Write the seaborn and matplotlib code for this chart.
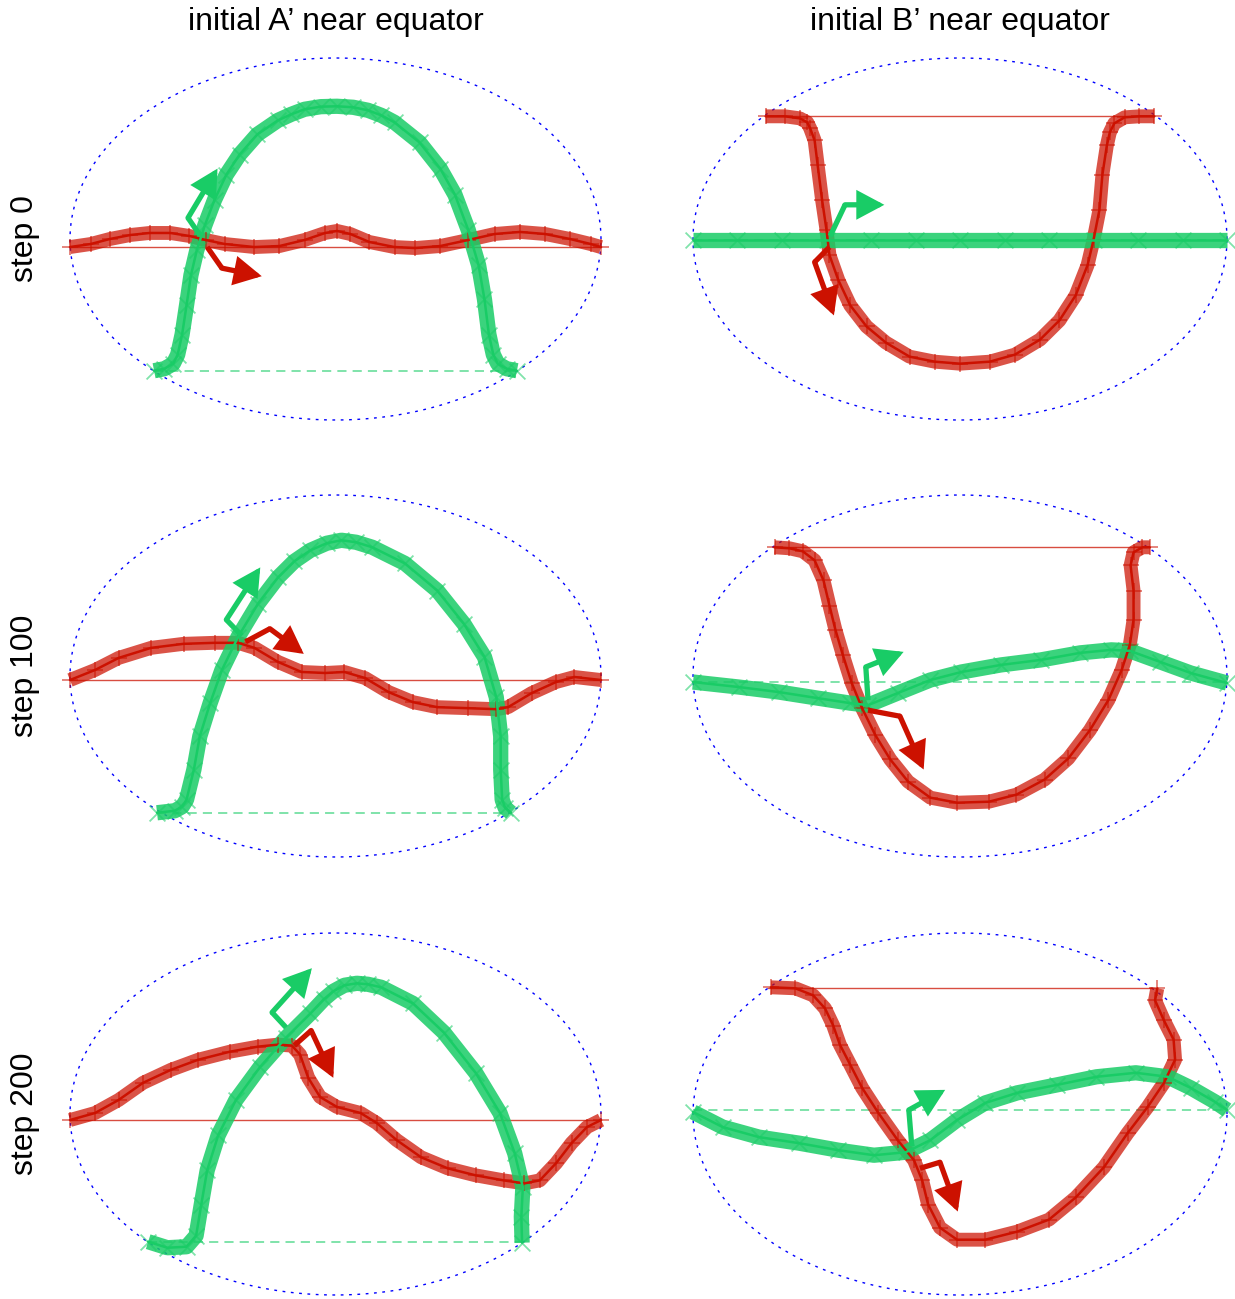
import numpy as np
import matplotlib
matplotlib.use("Agg")
import matplotlib.pyplot as plt
import seaborn as sns

RED = "#cc1100"
GREEN = "#19cc66"

col_titles = ["initial A\u2019 near equator", "initial B\u2019 near equator"]
row_labels = ["step 0", "step 100", "step 200"]

# ---- step 0, A' ----
a0_red_lon = [-180, -166, -153, -139, -126, -112, -99, -88, -75, -55, -38, -21, -7, 1, 10, 23, 40, 54, 71, 90, 108, 125, 142, 159, 173, 180]
a0_red_lat = [-4, -2.5, 0, 2, 3, 3, 1.5, -0.5, -2.5, -4, -3.5, -0.5, 3, 4, 2.5, -1.5, -4, -4.5, -3.5, -0.5, 2.5, 3.5, 2.5, 0, -2.5, -4]
a0_green_lon = [-123, -116, -110, -107, -104, -101, -98, -94, -88.5, -82, -74, -65, -53, -39, -30, -21, -10, 1, 12, 22, 31, 40, 57, 71, 81, 90, 97, 101, 104, 107, 110, 116, 123]
a0_green_lat = [-65.5, -64.5, -62, -57.5, -47.5, -33, -18, -5.5, 7, 19.5, 32, 42, 52, 59, 62, 64.5, 65.8, 66, 65.5, 64, 61.5, 58, 48, 35, 22, 4.5, -13, -30, -47.5, -57.5, -62, -64.5, -65.5]
a0_red_ref = (-180, 180, -4)
a0_green_ref = (-123, 123, -65.5)
a0_green_arrow_lon = [-92, -100, -80]
a0_green_arrow_lat = [2, 10.5, 35]
a0_red_arrow_lon = [-87, -77, -50]
a0_red_arrow_lat = [-4, -14.5, -18.5]

# ---- step 0, B' ----
b0_red_lon = [-131, -118, -108, -103, -101, -98, -96, -93, -90, -88, -82, -74, -63, -50, -34, -17, 0, 20, 37, 54, 67, 78, 86, 90, 94, 96, 99, 101, 104, 111, 121, 131]
b0_red_lat = [61, 61, 60, 58, 55, 49, 37, 19.5, 4.5, -8, -20.5, -33, -43.5, -51.5, -58.5, -61, -62, -61, -57.5, -50, -40.5, -28, -13, -0.5, 14.5, 32, 46.5, 53, 57.5, 60.5, 61, 61]
b0_green_lon = [-180, -150, -120, -90, -60, -30, 0, 30, 60, 90, 120, 150, 180]
b0_green_lat = [-0.5, -0.5, -0.5, -0.5, -0.5, -0.5, -0.5, -0.5, -0.5, -0.5, -0.5, -0.5, -0.5]
b0_red_ref = (-131, 131, 61)
b0_green_ref = (-180, 180, -0.5)
b0_green_arrow_lon = [-87.5, -77.5, -51]
b0_green_arrow_lat = [1.5, 17, 17]
b0_red_arrow_lon = [-88, -98, -85]
b0_red_arrow_lat = [-4, -11.5, -38]

# ---- step 100, A' ----
a1_red_lon = [-180, -163, -147, -125, -103, -82, -66, -55, -39, -23, -7, 6, 20, 36, 52.5, 69, 90, 109, 117, 133, 149.5, 162, 180]
a1_red_lat = [-2, 3, 9, 14, 16, 16.5, 16.5, 14, 7, 2, 1.5, 2, -1, -8, -13, -15.5, -16, -16.5, -15.5, -8.5, -3, -0.5, -2]
a1_green_lon = [-121, -109, -104, -101, -96, -92, -85, -77, -66, -52.5, -39, -28, -17, -6, 4, 14, 25, 47, 69, 87, 101, 109, 112, 112, 113, 115, 119]
a1_green_lat = [-68, -67, -65, -61.5, -46.5, -30, -13.5, 3, 19.5, 36, 49, 57, 62.5, 66, 67.5, 66.5, 64, 56, 42.5, 26, 9.5, -10.5, -30, -46.5, -61.5, -65.5, -68]
a1_red_ref = (-180, 180, -2)
a1_green_ref = (-121, 119, -68)
a1_green_arrow_lon = [-63.5, -74, -51]
a1_green_arrow_lat = [20, 28, 54]
a1_red_arrow_lon = [-61, -44.5, -21.5]
a1_red_arrow_lat = [17, 23.5, 11]

# ---- step 100, B' ----
b1_red_lon = [-125, -115, -106, -98, -92, -88, -84, -79, -73, -66, -57, -47, -35, -20, -2, 19.5, 38, 57, 73, 87.5, 100, 109, 114.5, 117, 117, 115, 117, 123, 128]
b1_red_lat = [64, 63.5, 62, 57.5, 47.5, 35, 23, 10.5, -3.5, -16, -29.5, -41.5, -52.5, -60.5, -63, -62.5, -59, -51.5, -41, -27, -12, 3, 15.5, 28, 42.5, 55, 61.5, 64, 64]
b1_green_lon = [-180, -149, -122, -96, -74, -62, -42, -20, 1, 27.5, 54.5, 81, 102, 114.5, 135, 155.5, 180]
b1_green_lat = [-3, -5.5, -8, -11, -13.5, -14.5, -8.5, -2, 2, 5.5, 8, 11.5, 13, 12.5, 7, 1.5, -3.5]
b1_red_ref = (-126, 126, 64)
b1_green_ref = (-180, 180, -3)
b1_green_arrow_lon = [-62, -63.5, -38]
b1_green_arrow_lat = [-12, 4.5, 12]
b1_red_arrow_lon = [-62, -40.5, -24.5]
b1_red_arrow_lat = [-17, -20, -46.5]

# ---- step 200, A' ----
a2_red_lon = [-180, -163, -147, -130.5, -111.5, -93, -71.5, -52.5, -39, -29.5, -24, -18.5, -10.5, 1, 17, 28, 41.5, 58, 76, 95, 114, 128, 138.5, 149.5, 160, 170.5, 180]
a2_red_lat = [-3, 0.5, 7, 15.5, 22, 27, 31, 33.5, 34.5, 34, 29.5, 18, 8.5, 3.5, 0.5, -4.5, -13, -21.5, -27, -30.5, -33, -34.5, -33, -24.5, -14.5, -6.5, -3]
a2_green_lon = [-127, -114, -101, -94.5, -91, -87, -79.5, -67.5, -51, -33.5, -17, -8, -1.5, 6, 14.5, 22, 31, 52.5, 73.5, 95, 111.5, 121.5, 127, 126, 126.5]
a2_green_lat = [-63.5, -66.5, -66, -60.5, -45, -28, -10.5, 7, 23.5, 38, 50, 57, 61, 64, 65, 64.5, 63, 55, 40.5, 20.5, 0.5, -19.5, -36.5, -51, -64]
a2_red_ref = (-180, 180, -3)
a2_green_ref = (-127, 126.5, -63.5)
a2_green_arrow_lon = [-33.5, -43, -16]
a2_green_arrow_lat = [43, 50.5, 72.5]
a2_red_arrow_lon = [-28, -16.5, -1.5]
a2_red_arrow_lat = [34, 41.5, 18]

# ---- step 200, B' ----
b2_red_lon = [-127.5, -111, -99, -91, -85.5, -81, -74, -66, -55, -42, -31, -25.5, -21.5, -13.5, -2, 17, 38.5, 60, 78, 97, 113, 126.5, 137.5, 145, 144, 137.5, 131.5, 133]
b2_red_lat = [63, 62.5, 59, 52.5, 44, 34.5, 24.5, 13, 0.5, -13, -23, -33, -45, -56.5, -62.5, -62.5, -58.5, -52.5, -41.5, -26.5, -9.5, 3.5, 15.5, 27, 37, 46.5, 56.5, 62.5]
b2_green_lon = [-180, -160, -135.5, -108.5, -82, -58, -36.5, -20, -2, 17, 38.5, 65.5, 92, 118.5, 140, 155.5, 172, 180]
b2_green_lat = [1, -6.5, -11.5, -14.5, -18, -20.5, -19, -13, -3, 5.5, 10.5, 14.5, 18.5, 20.5, 18.5, 13, 6, 2]
b2_red_ref = (-129.5, 129.5, 62.5)
b2_green_ref = (-180, 180, 2)
b2_green_arrow_lon = [-32.5, -34.5, -10]
b2_green_arrow_lat = [-16, 2, 12]
b2_red_arrow_lon = [-27, -13.5, -1.5]
b2_red_arrow_lat = [-27, -24, -48.5]

panels = [
    [(a0_red_lon, a0_red_lat, a0_green_lon, a0_green_lat, a0_red_ref, a0_green_ref,
      (a0_red_arrow_lon, a0_red_arrow_lat), (a0_green_arrow_lon, a0_green_arrow_lat)),
     (b0_red_lon, b0_red_lat, b0_green_lon, b0_green_lat, b0_red_ref, b0_green_ref,
      (b0_red_arrow_lon, b0_red_arrow_lat), (b0_green_arrow_lon, b0_green_arrow_lat))],
    [(a1_red_lon, a1_red_lat, a1_green_lon, a1_green_lat, a1_red_ref, a1_green_ref,
      (a1_red_arrow_lon, a1_red_arrow_lat), (a1_green_arrow_lon, a1_green_arrow_lat)),
     (b1_red_lon, b1_red_lat, b1_green_lon, b1_green_lat, b1_red_ref, b1_green_ref,
      (b1_red_arrow_lon, b1_red_arrow_lat), (b1_green_arrow_lon, b1_green_arrow_lat))],
    [(a2_red_lon, a2_red_lat, a2_green_lon, a2_green_lat, a2_red_ref, a2_green_ref,
      (a2_red_arrow_lon, a2_red_arrow_lat), (a2_green_arrow_lon, a2_green_arrow_lat)),
     (b2_red_lon, b2_red_lat, b2_green_lon, b2_green_lat, b2_red_ref, b2_green_ref,
      (b2_red_arrow_lon, b2_red_arrow_lat), (b2_green_arrow_lon, b2_green_arrow_lat))],
]


def draw_band(ax, lon, lat, color, marker, lw, band_alpha):
    ax.plot(lon, lat, color=color, lw=lw, alpha=band_alpha, solid_capstyle="butt",
            solid_joinstyle="round", zorder=2)
    sns.scatterplot(x=lon, y=lat, marker=marker, s=130, color=color, alpha=0.55,
                    linewidth=1.3, ax=ax, zorder=3, legend=False)


def draw_center(ax, lon, lat, color):
    sns.lineplot(x=lon, y=lat, sort=False, estimator=None, color=color, lw=1.8,
                 ax=ax, zorder=4)


def draw_arrow(ax, lon, lat, color):
    ax.plot(lon[:2], lat[:2], color=color, lw=3.8, solid_capstyle="butt",
            solid_joinstyle="miter", zorder=6)
    ax.annotate("", xy=(lon[2], lat[2]), xytext=(lon[1], lat[1]),
                arrowprops=dict(arrowstyle="-|>,head_length=0.75,head_width=0.4",
                                color=color, lw=3.8, mutation_scale=19,
                                shrinkA=0, shrinkB=0, joinstyle="miter"),
                zorder=6)


sns.set_theme(style="white")
plt.rcParams["font.family"] = ["Liberation Sans", "DejaVu Sans"]

W, H = 1235, 1299
fig = plt.figure(figsize=(W / 100, H / 100), dpi=100)

col_cx = [335.5, 960]
col_a = [265.5, 267]
row_cy = [239, 676, 1114]
b = 181
XL, YL = 200, 95

t = np.linspace(0, 2 * np.pi, 400)
for r in range(3):
    for c in range(2):
        red_lon, red_lat, green_lon, green_lat, red_ref, green_ref, red_arr, green_arr = panels[r][c]
        w = 2 * col_a[c] * XL / 180
        h = 2 * b * YL / 90
        left = col_cx[c] - w / 2
        top = row_cy[r] - h / 2
        ax = fig.add_axes([left / W, 1 - (top + h) / H, w / W, h / H])

        ax.plot(180 * np.cos(t), 90 * np.sin(t), color="blue", lw=1,
                ls=(0, (2, 4)), zorder=1)
        ax.plot([red_ref[0], red_ref[1]], [red_ref[2], red_ref[2]], color=RED,
                lw=1, alpha=0.75, zorder=1.5)
        ax.plot([green_ref[0], green_ref[1]], [green_ref[2], green_ref[2]],
                color=GREEN, lw=1.1, ls=(0, (6, 4)), alpha=0.7, zorder=1.5)

        draw_band(ax, red_lon, red_lat, RED, "+", 10, 0.72)
        draw_band(ax, green_lon, green_lat, GREEN, "x", 11, 0.85)
        draw_center(ax, red_lon, red_lat, RED)
        draw_center(ax, green_lon, green_lat, GREEN)
        draw_arrow(ax, green_arr[0], green_arr[1], GREEN)
        draw_arrow(ax, red_arr[0], red_arr[1], RED)

        ax.set_xlim(-XL, XL)
        ax.set_ylim(-YL, YL)
        ax.axis("off")

for c, title in enumerate(col_titles):
    fig.text(col_cx[c] / W, 1 - 22 / H, title, ha="center", va="center",
             fontsize=23, color="black")
for r, label in enumerate(row_labels):
    fig.text(25 / W, 1 - row_cy[r] / H, label, ha="center", va="center",
             rotation=90, fontsize=23, color="black")

fig.savefig("out.png", dpi=100)
